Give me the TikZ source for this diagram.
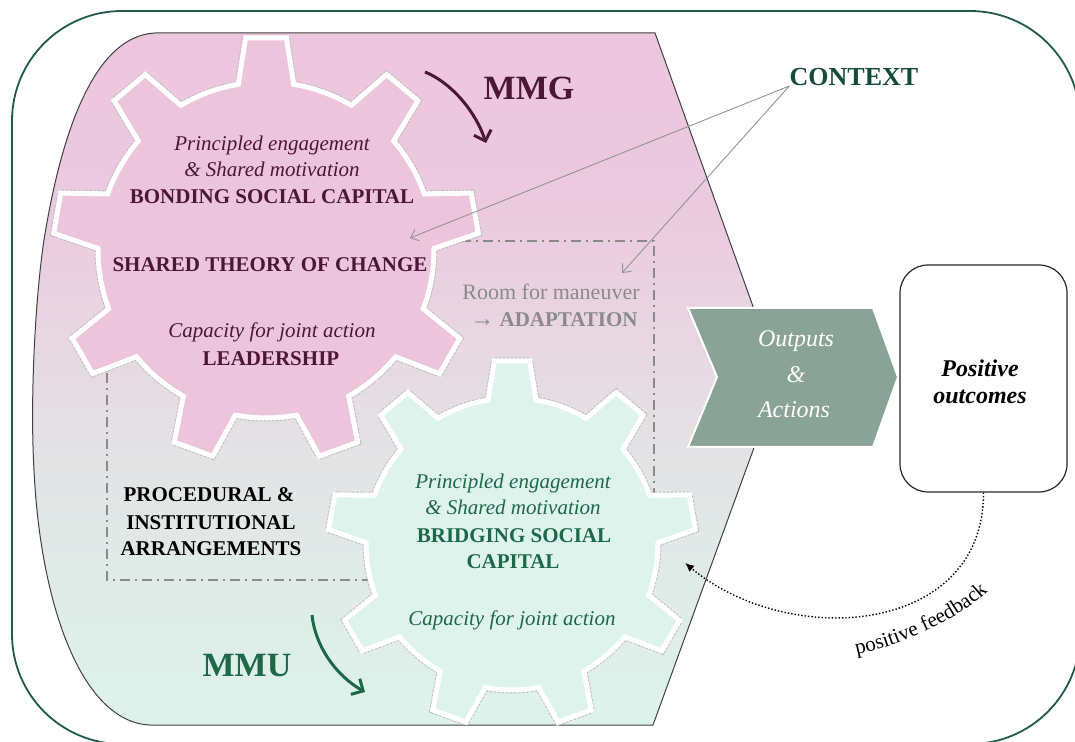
\documentclass[tikz,border=0pt]{standalone}
\usepackage{fontspec}
\setmainfont{Liberation Serif}
\usetikzlibrary{arrows.meta,decorations.text}
\definecolor{pinkbg}{RGB}{236,198,221}
\definecolor{pinkbgb}{RGB}{235,201,222}
\definecolor{pinkmid}{RGB}{232,214,225}
\definecolor{midbg}{RGB}{227,226,228}
\definecolor{mintmid}{RGB}{224,234,231}
\definecolor{mintbgb}{RGB}{222,240,234}
\definecolor{mintbg}{RGB}{222,242,235}
\definecolor{maroontxt}{RGB}{76,22,53}
\definecolor{greentxt}{RGB}{30,104,74}
\definecolor{ctxcol}{RGB}{22,76,55}
\definecolor{framecol}{RGB}{30,90,68}
\definecolor{pinkgear}{RGB}{236,196,220}
\definecolor{greengear}{RGB}{222,243,236}
\definecolor{chevcol}{RGB}{138,163,151}
\definecolor{roomcol}{RGB}{138,138,138}
\pgfdeclareverticalshading{bgshade}{100bp}{color(0bp)=(mintbg); color(25bp)=(mintbg); color(28.2bp)=(mintbgb); color(36.9bp)=(mintmid); color(44.9bp)=(midbg); color(53.5bp)=(pinkmid); color(62.9bp)=(pinkbgb); color(75bp)=(pinkbg); color(100bp)=(pinkbg)}
\newcommand{\myfs}[1]{\fontsize{#1}{#1}\selectfont}
% style, cx, cy, r outer, r root
\newcommand{\drawgear}[5]{%
  \path[#1] ({#2+#5*cos(80.5)},{#3-#5*sin(80.5)})
  \foreach \k in {0,...,8}{%
    -- ({#2+#5*cos(90+40*\k-9.5)},{#3-#5*sin(90+40*\k-9.5)})
    -- ({#2+#4*cos(90+40*\k-5.5)},{#3-#4*sin(90+40*\k-5.5)})
    -- ({#2+#4*cos(90+40*\k+5.5)},{#3-#4*sin(90+40*\k+5.5)})
    -- ({#2+#5*cos(90+40*\k+9.5)},{#3-#5*sin(90+40*\k+9.5)})
    \foreach \j in {1,...,5}{ -- ({#2+#5*cos(90+40*\k+9.5+3.5*\j)},{#3-#5*sin(90+40*\k+9.5+3.5*\j)}) }
  } -- cycle;}
\tikzset{
  gearpinkst/.style={preaction={draw=gray!55, line width=3.4pt, dash pattern=on 1.2pt off 0.8pt}, fill=pinkgear, draw=white, line width=2.5pt, line join=miter},
  geargreenst/.style={preaction={draw=gray!55, line width=3.4pt, dash pattern=on 1.2pt off 0.8pt}, fill=greengear, draw=white, line width=2.5pt, line join=miter},
  txt/.style={anchor=base, inner sep=0pt, font=\myfs{10.5}},
  ptxt/.style={txt, text=maroontxt},
  gtxt/.style={txt, text=greentxt},
  dashbox/.style={draw=roomcol, line width=0.8pt, dash pattern=on 5pt off 2.5pt on 1pt off 2.5pt},
  ctxarrow/.style={draw=gray!85, line width=0.45pt, -{Straight Barb[length=3.5pt,width=6pt]}},
  turnarrow/.style={line width=1.5pt, -{Straight Barb[length=4.5pt,width=9pt]}},
  fbarrow/.style={draw=black, line width=0.7pt, densely dotted, -{Latex[length=4.5pt,width=4pt]}},
  chev/.style={fill=chevcol, draw=white, line width=1pt},
  posbox/.style={draw=black!85, line width=0.6pt, rounded corners=14pt, minimum width=83.5pt, minimum height=113.5pt, inner sep=0pt}
}
\begin{document}
\begin{tikzpicture}[x=0.5pt,y=-0.5pt]
\useasboundingbox (0,0) rectangle (1075,742);
% outer frame
\draw[framecol, line width=0.9pt, rounded corners=55pt] (12,11) rectangle (1080,744);
% main shaded shape
\shadedraw[shading=bgshade, draw=black!75, line width=0.5pt]
  (655,33) -- (155,33) .. controls (92,36) and (60,140) .. (44,240)
  .. controls (35,300) and (30,400) .. (34,470)
  .. controls (40,600) and (80,722) .. (150,725) -- (653,725) -- (779,379) -- cycle;
% dash-dot box
\draw[dashbox] (107,241) rectangle (654,580);
% gears
\drawgear{gearpinkst}{266}{250}{213}{168}
\drawgear{geargreenst}{512}{544}{184}{146}
% pink gear texts
\node[ptxt, font=\myfs{10.5}\itshape] (p1) at (272,151) {Principled engagement};
\node[ptxt, font=\myfs{10.5}\itshape] (p2) at (272,177) {\& Shared motivation};
\node[ptxt, font=\myfs{10.5}\bfseries] (p3) at (272,204) {BONDING SOCIAL CAPITAL};
\node[ptxt, font=\myfs{10.5}\bfseries] (p4) at (270,272) {SHARED THEORY OF CHANGE};
\node[ptxt, font=\myfs{10.5}\itshape] (p5) at (272,338) {Capacity for joint action};
\node[ptxt, font=\myfs{10.5}\bfseries] (p6) at (271,366) {LEADERSHIP};
% green gear texts
\node[gtxt, font=\myfs{10.5}\itshape] (g1) at (513,488) {Principled engagement};
\node[gtxt, font=\myfs{10.5}\itshape] (g2) at (513,515) {\& Shared motivation};
\node[gtxt, font=\myfs{10.5}\bfseries] (g3) at (514,542) {BRIDGING SOCIAL};
\node[gtxt, font=\myfs{10.5}\bfseries] (g4) at (513,568) {CAPITAL};
\node[gtxt, font=\myfs{10.5}\itshape] (g5) at (512,625) {Capacity for joint action};
% procedural
\node[txt, font=\myfs{10.5}\bfseries] (pr1) at (209,502) {PROCEDURAL \&};
\node[txt, font=\myfs{10.5}\bfseries] (pr2) at (211,529) {INSTITUTIONAL};
\node[txt, font=\myfs{10.5}\bfseries] (pr3) at (211,555) {ARRANGEMENTS};
% room for maneuver
\node[txt, text=roomcol, font=\myfs{11}] (rm1) at (551,300) {Room for maneuver};
\node[txt, text=roomcol, font=\myfs{10.5}\bfseries] (rm2) at (554,327) {{\myfs{12}→} ADAPTATION};
% MMG / MMU
\node[txt, text=maroontxt, font=\myfs{17}\bfseries] (mmg) at (529,100) {MMG};
\node[txt, text=greentxt, font=\myfs{17}\bfseries] (mmu) at (247,676) {MMU};
\coordinate (mmgA) at (425,72);
\coordinate (mmgB) at (486,143);
\draw[turnarrow, maroontxt] (mmgA) .. controls (450,82) and (475,110) .. (mmgB);
\coordinate (mmuA) at (312,615);
\coordinate (mmuB) at (365,692);
\draw[turnarrow, greentxt] (mmuA) .. controls (315,645) and (335,675) .. (mmuB);
% chevron
\path[chev] (688,308) -- (873,308) -- (898,377) -- (873,447) -- (688,447) -- (717,377) -- cycle;
\node[txt, text=white, font=\myfs{12}\itshape] (o1) at (796,347) {Outputs};
\node[txt, text=white, font=\myfs{12}\itshape] (o2) at (796,383) {\&};
\node[txt, text=white, font=\myfs{12}\itshape] (o3) at (794,418) {Actions};
% positive outcomes
\node[posbox] (pos) at (983.5,378.5) {};
\node[txt, font=\myfs{12}\bfseries\itshape] (pos1) at (980,377) {Positive};
\node[txt, font=\myfs{12}\bfseries\itshape] (pos2) at (980,404) {outcomes};
% context
\node[txt, text=ctxcol, font=\myfs{13}\bfseries] (ctx) at (854,86) {CONTEXT};
\coordinate (ctxA) at (410,238);
\coordinate (ctxB) at (622,273);
\draw[ctxarrow] (ctx.base west) -- (ctxA);
\draw[ctxarrow] (ctx.base west) -- (ctxB);
% feedback
\coordinate (fbend) at (685,563);
\draw[fbarrow] (pos.south) .. controls (984,635) and (790,650) .. (fbend);
\path[decorate, decoration={text along path, text={|\myfs{10.5}|positive feedback}, text align=center}]
  (844,657) .. controls (885,652) and (962,622) .. (997,582);
\end{tikzpicture}
\end{document}
